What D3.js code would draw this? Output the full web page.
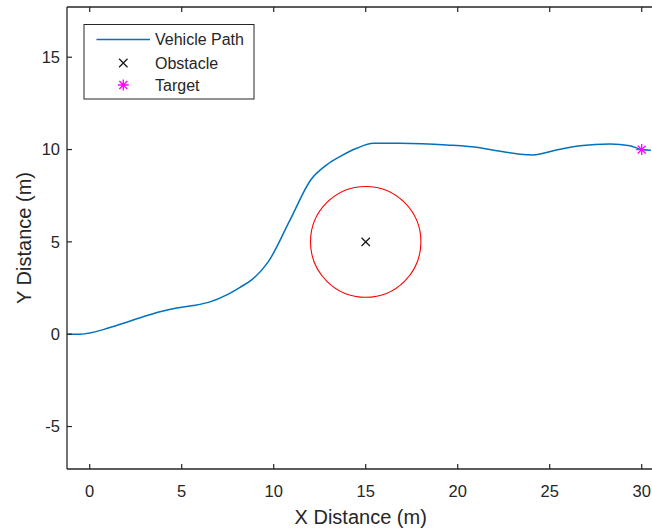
<!DOCTYPE html>
<html>
<head>
<meta charset="utf-8">
<script src="https://cdn.jsdelivr.net/npm/d3@7"></script>
<style>
  html, body { margin: 0; padding: 0; background: #fff; }
  svg { display: block; font-family: "Liberation Sans", Arial, Helvetica, sans-serif; }
</style>
</head>
<body>
<svg id="chart" width="652" height="531"></svg>
<script>
// Vehicle path (metres)
const pathX = [-1.23, -0.53, 1.10, 2.01, 2.91, 3.82, 4.73, 5.63, 6.54, 7.45, 8.17, 8.80, 9.71, 10.89, 12.01, 12.88, 13.60, 14.51, 15.41, 16.86, 19.40, 21.21, 22.12, 23.39, 24.11, 25.20, 26.65, 28.28, 29.36, 30.0, 30.5];
const pathY = [0, 0, 0.36, 0.65, 0.95, 1.22, 1.42, 1.55, 1.75, 2.13, 2.54, 2.94, 3.93, 6.19, 8.35, 9.17, 9.62, 10.07, 10.34, 10.34, 10.25, 10.10, 9.94, 9.75, 9.71, 9.94, 10.21, 10.30, 10.21, 10.0, 9.96];

// Obstacle and its clearance radius
const obstacleX = [15];
const obstacleY = [5];
const obstacleRadius = [3];

// Target position
const targetX = [30];
const targetY = [10];

// Axis ticks and labels
const xTicks = [0, 5, 10, 15, 20, 25, 30];
const yTicks = [-5, 0, 5, 10, 15];
const legendLabels = ["Vehicle Path", "Obstacle", "Target"];

(function draw() {
  const svg = d3.select("#chart");
  const plotLeft = 67, plotTop = 7, plotBottom = 469;
  const pxPerUnit = 18.4;
  const xMin = -1.234, xMax = 31;
  const x = d3.scaleLinear().domain([xMin, xMax]).range([plotLeft, plotLeft + (xMax - xMin) * pxPerUnit]);
  const y = d3.scaleLinear().domain([-7.3, 17.72]).range([plotBottom, plotTop]);
  const plotRight = x(xMax);

  const axisColor = "#262626";
  const pathColor = "#0072BD";

  svg.append("defs").append("clipPath").attr("id", "plotClip")
    .append("rect").attr("x", plotLeft).attr("y", plotTop)
    .attr("width", plotRight - plotLeft).attr("height", plotBottom - plotTop);

  const plot = svg.append("g").attr("clip-path", "url(#plotClip)");

  // Clearance circle around the obstacle
  plot.append("ellipse")
    .attr("cx", x(obstacleX[0])).attr("cy", y(obstacleY[0]))
    .attr("rx", x(obstacleX[0] + obstacleRadius[0]) - x(obstacleX[0]))
    .attr("ry", y(obstacleY[0] - obstacleRadius[0]) - y(obstacleY[0]))
    .attr("fill", "none").attr("stroke", "#ff0000").attr("stroke-width", 1.1);

  // Vehicle path
  const pts = pathX.map((v, i) => [v, pathY[i]]);
  plot.append("path")
    .datum(pts)
    .attr("d", d3.line().x(d => x(d[0])).y(d => y(d[1])).curve(d3.curveMonotoneX))
    .attr("fill", "none").attr("stroke", pathColor).attr("stroke-width", 1.5);

  // Markers
  function crossMarker(g, cx, cy, s, color, w) {
    g.append("path").attr("d", `M${cx - s},${cy - s}L${cx + s},${cy + s}M${cx - s},${cy + s}L${cx + s},${cy - s}`)
      .attr("stroke", color).attr("stroke-width", w).attr("fill", "none");
  }
  function starMarker(g, cx, cy, s, color, w) {
    const d = s * 0.72;
    g.append("path").attr("d",
      `M${cx - s},${cy}L${cx + s},${cy}M${cx},${cy - s}L${cx},${cy + s}` +
      `M${cx - d},${cy - d}L${cx + d},${cy + d}M${cx - d},${cy + d}L${cx + d},${cy - d}`)
      .attr("stroke", color).attr("stroke-width", w).attr("fill", "none");
  }
  obstacleX.forEach((v, i) => crossMarker(plot, x(v), y(obstacleY[i]), 4.2, "#1a1a1a", 1.3));
  targetX.forEach((v, i) => starMarker(plot, x(v), y(targetY[i]), 5.5, "#ff00ff", 1.3));

  // Axes box with inward ticks
  const axes = svg.append("g");
  axes.append("line").attr("x1", plotLeft).attr("x2", plotRight).attr("y1", plotBottom).attr("y2", plotBottom)
    .attr("stroke", axisColor).attr("stroke-width", 1.3);
  axes.append("line").attr("x1", plotLeft).attr("x2", plotRight).attr("y1", plotTop).attr("y2", plotTop)
    .attr("stroke", axisColor).attr("stroke-width", 1.3);
  axes.append("line").attr("x1", plotLeft).attr("x2", plotLeft).attr("y1", plotTop).attr("y2", plotBottom)
    .attr("stroke", axisColor).attr("stroke-width", 1.3);

  const tickLen = 5;
  xTicks.forEach(t => {
    axes.append("line").attr("x1", x(t)).attr("x2", x(t)).attr("y1", plotBottom).attr("y2", plotBottom - tickLen)
      .attr("stroke", axisColor).attr("stroke-width", 1.2);
    axes.append("line").attr("x1", x(t)).attr("x2", x(t)).attr("y1", plotTop).attr("y2", plotTop + tickLen)
      .attr("stroke", axisColor).attr("stroke-width", 1.2);
    axes.append("text").attr("x", x(t)).attr("y", 497).attr("text-anchor", "middle")
      .attr("font-size", 16.5).attr("fill", axisColor).text(t);
  });
  yTicks.forEach(t => {
    axes.append("line").attr("x1", plotLeft).attr("x2", plotLeft + tickLen).attr("y1", y(t)).attr("y2", y(t))
      .attr("stroke", axisColor).attr("stroke-width", 1.2);
    axes.append("text").attr("x", 60).attr("y", y(t)).attr("dy", "0.36em").attr("text-anchor", "end")
      .attr("font-size", 16.5).attr("fill", axisColor).text(t);
  });

  // Axis titles
  svg.append("text").attr("x", (x(0) + x(30)) / 2 - 5).attr("y", 524).attr("text-anchor", "middle")
    .attr("font-size", 20).attr("fill", axisColor).text("X Distance (m)");
  svg.append("text").attr("transform", `translate(31,${(plotTop + plotBottom) / 2}) rotate(-90)`)
    .attr("text-anchor", "middle").attr("font-size", 20).attr("fill", axisColor).text("Y Distance (m)");

  // Legend
  const legend = svg.append("g");
  legend.append("rect").attr("x", 84).attr("y", 24.5).attr("width", 170).attr("height", 74.5)
    .attr("fill", "#fff").attr("stroke", axisColor).attr("stroke-width", 1);
  const rowY = [39.5, 63, 85];
  legend.append("line").attr("x1", 96.5).attr("x2", 150).attr("y1", rowY[0]).attr("y2", rowY[0])
    .attr("stroke", pathColor).attr("stroke-width", 1.5);
  crossMarker(legend, 123.3, rowY[1], 4.2, "#1a1a1a", 1.3);
  starMarker(legend, 123.3, rowY[2], 5.5, "#ff00ff", 1.3);
  legendLabels.forEach((lab, i) => {
    legend.append("text").attr("x", 155).attr("y", rowY[i]).attr("dy", "0.36em")
      .attr("font-size", 16).attr("fill", axisColor).text(lab);
  });
})();
</script>
</body>
</html>
